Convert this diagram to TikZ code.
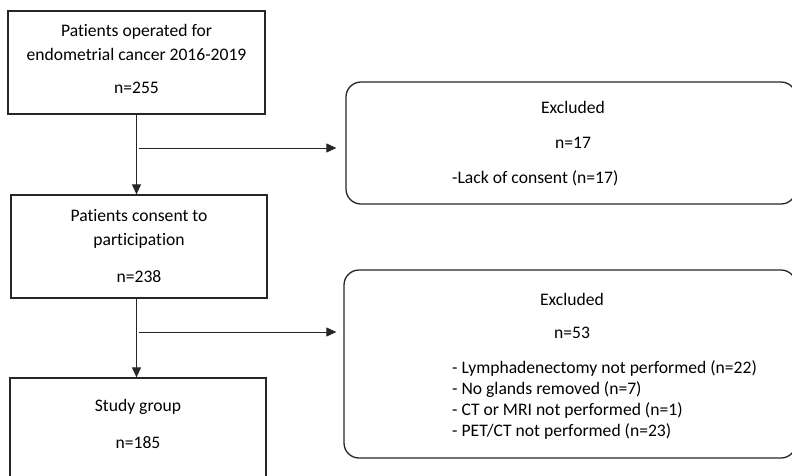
\documentclass[tikz,border=0pt]{standalone}
\usepackage{fontspec}
\setmainfont{Carlito}[Ligatures=NoCommon]
\usetikzlibrary{arrows.meta}

\begin{document}
\begin{tikzpicture}[x=1pt, y=-1pt,
    every node/.style={font=\fontsize{17.6}{24}\selectfont},
    stage/.style={draw=black!85, line width=1.3pt, align=center, inner sep=0pt,
        minimum width=256pt, minimum height=103pt},
    excluded/.style={draw=black!85, line width=1.3pt, rounded corners=15pt,
        align=center, inner sep=0pt},
    reasons/.style={anchor=west, align=left, inner sep=0pt,
        font=\fontsize{17.6}{21}\selectfont},
    flow/.style={draw=black!85, line width=1pt, -{Triangle[length=10pt, width=9pt]}}]
    \useasboundingbox (0,0) rectangle (792,475);
    \clip (0,0) rectangle (792,475);
    % stages of the study
    \node[stage, minimum width=257pt] (operated) at (136.5,62.5)
        {Patients operated for\\ endometrial cancer 2016-2019\\[9pt] n=255\\[-17pt]};
    \node[stage] (consent) at (139,246.5)
        {Patients consent to\\ participation\\[13pt] n=238\\[-22pt]};
    \node[stage] (study) at (138,429.5)
        {Study group\\[13pt] n=185\\[-12pt]};
    % exclusion boxes
    \node[excluded, minimum width=450pt, minimum height=122pt] (excl1) at (571,143)
        {\hspace*{4pt}Excluded\\[11pt] \hspace*{4pt}n=17\\[12pt]};
    \node[reasons] (lack) at (452,178) {-Lack of consent (n=17)};
    \node[excluded, minimum width=452pt, minimum height=188pt] (excl2) at (570,364)
        {\hspace*{4pt}Excluded\\[9pt] \hspace*{4pt}n=53\\[72pt]};
    \node[reasons] (lymph) at (452,400)
        {- Lymphadenectomy not performed (n=22)\\
         - No glands removed (n=7)\\
         - CT or MRI not performed (n=1)\\
         - PET/CT not performed (n=23)};
    % connectors
    \coordinate (split1) at (139,148);
    \coordinate (split2) at (139,332);
    \draw[flow] (operated.south) -- (operated.south |- consent.north);
    \draw[flow] (split1) -- ([xshift=-9pt]split1 -| excl1.west);
    \draw[flow] (consent.south -| operated.south) -- (operated.south |- study.north);
    \draw[flow] (split2) -- ([xshift=-7pt]split2 -| excl2.west);
\end{tikzpicture}
\end{document}
